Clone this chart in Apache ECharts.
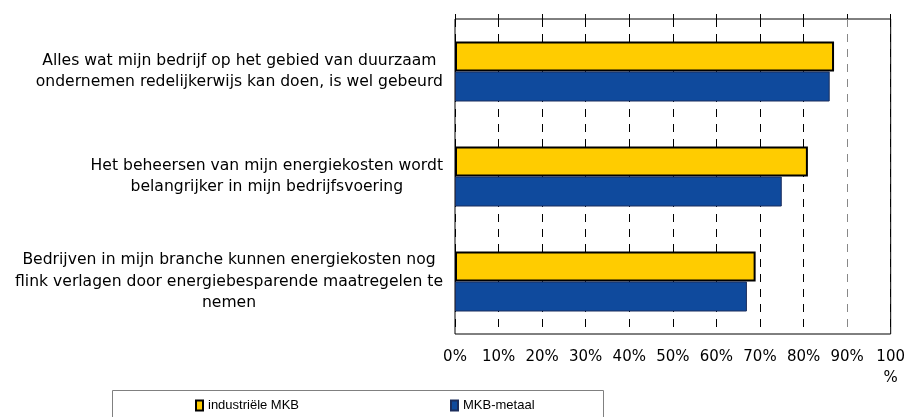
<!DOCTYPE html>
<html>
<head>
<meta charset="utf-8">
<script src="https://cdn.jsdelivr.net/npm/echarts@6/dist/echarts.min.js"></script>
<style>
  html, body { margin: 0; padding: 0; background: #fff; }
  #chart { width: 908px; height: 417px; }
</style>
</head>
<body>
<div id="chart"></div>
<script>
// categories, one string per line of the label
var categories = [
  ['Alles wat mijn bedrijf op het gebied van duurzaam', 'ondernemen redelijkerwijs kan doen, is wel gebeurd'],
  ['Het beheersen van mijn energiekosten wordt', 'belangrijker in mijn bedrijfsvoering'],
  ['Bedrijven in mijn branche kunnen energiekosten nog', 'flink verlagen door energiebesparende maatregelen te', 'nemen']
];
var seriesNames = ['industriële MKB', 'MKB-metaal'];
var industrieel = [87, 81, 69];
var metaal = [86, 75, 67];
var tickLabels = ['0%', '10%', '20%', '30%', '40%', '50%', '60%', '70%', '80%', '90%', '100\n%'];

var chart = echarts.init(document.getElementById('chart'));
var font = 'DejaVu Sans';
var legendFont = "'Liberation Sans', Arial, sans-serif";

// grid lines: the 90% one looks lighter in the original
var gridColors = ['#000', '#000', '#000', '#000', '#000', '#000', '#000', '#000', '#000', '#888', '#000'];

var option = {
  backgroundColor: '#fff',
  animation: false,
  grid: {
    left: 455, right: 17, top: 19, bottom: 83,
    show: true,
    borderColor: '#000',
    borderWidth: 1
  },
  legend: [{
    left: 195, top: 399, padding: 0,
    data: [seriesNames[0]],
    itemWidth: 7, itemHeight: 10,
    icon: 'rect',
    textStyle: { fontFamily: legendFont, fontSize: 13, color: '#000' }
  }, {
    left: 450, top: 399, padding: 0,
    data: [seriesNames[1]],
    itemWidth: 7, itemHeight: 10,
    icon: 'rect',
    textStyle: { fontFamily: legendFont, fontSize: 13, color: '#000' }
  }],
  graphic: [{
    type: 'rect',
    shape: { x: 112.5, y: 390.5, width: 491, height: 40 },
    style: { fill: 'none', stroke: '#808080', lineWidth: 1 }
  }],
  xAxis: [{
    type: 'value',
    position: 'bottom',
    min: 0, max: 100, interval: 10,
    axisLine: { show: false },
    axisTick: { show: false },
    axisLabel: {
      margin: 13,
      fontFamily: font, fontSize: 15, color: '#000',
      lineHeight: 21,
      formatter: function (v) { return tickLabels[Math.round(v / 10)]; }
    },
    splitLine: { show: true, lineStyle: { color: gridColors, type: [8, 7], width: 1 } }
  }, {
    type: 'value',
    position: 'top',
    min: 0, max: 100, interval: 10,
    axisLine: { show: false },
    axisTick: { show: true, inside: false, length: 5, lineStyle: { color: '#000' } },
    axisLabel: { show: false },
    splitLine: { show: false }
  }],
  yAxis: {
    type: 'category',
    inverse: true,
    data: categories.map(function (c) { return c.join('\n'); }),
    axisLine: { show: false },
    axisTick: { show: false },
    axisLabel: {
      margin: 12,
      fontFamily: font, fontSize: 15.6, color: '#000',
      formatter: function (v) {
        return v.split('\n').map(function (l) { return '{c|' + l + '}'; }).join('\n');
      },
      rich: { c: { align: 'center', fontFamily: font, fontSize: 15.6, color: '#000', lineHeight: 21.5 } }
    }
  },
  series: [{
    name: seriesNames[0],
    type: 'bar',
    data: industrieel,
    barWidth: 30,
    barGap: '0%',
    itemStyle: { color: '#ffcc00', borderColor: '#000', borderWidth: 2 }
  }, {
    name: seriesNames[1],
    type: 'bar',
    data: metaal,
    barWidth: 30,
    barGap: '0%',
    itemStyle: { color: '#0f4a9d', borderColor: '#1b2d5c', borderWidth: 1 }
  }]
};
chart.setOption(option);
</script>
</body>
</html>
